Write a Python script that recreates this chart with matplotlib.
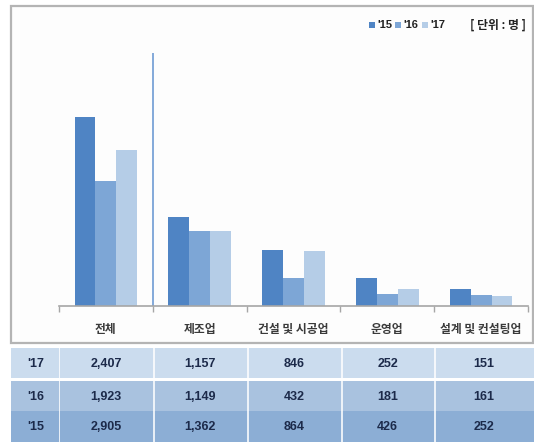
import matplotlib.pyplot as plt
from matplotlib.patches import Rectangle

# 데이터
categories = ["전체", "제조업", "건설 및 시공업", "운영업", "설계 및 컨설팅업"]
years = ["'15", "'16", "'17"]
v15 = [2905, 1362, 864, 426, 252]
v16 = [1923, 1149, 432, 181, 161]
v17 = [2407, 1157, 846, 252, 151]
unit_label = "[ 단위 : 명 ]"

bar_colors = ["#4f84c4", "#7da6d6", "#b5cde7"]
row_colors = {"'17": "#cbdcee", "'16": "#a9c2df", "'15": "#8caed5"}

W, H = 534, 442
plt.rcParams['font.family'] = ["Noto Sans CJK KR", "DejaVu Sans"]
num_font = dict(family="Liberation Sans")


def fx(px):
    return px / W


def fy(py):
    return 1 - py / H


fig = plt.figure(figsize=(W / 100, H / 100), dpi=100)
fig.patch.set_facecolor("white")

# 차트 테두리
fig.patches.append(Rectangle((fx(11), fy(343)), fx(532.5) - fx(11), fy(5.5) - fy(343),
                             transform=fig.transFigure, facecolor="#fdfdfd",
                             edgecolor="#b4b4b4", linewidth=1.6, zorder=-5))

ax = fig.add_axes([fx(59), fy(305.7), fx(528) - fx(59), (305.7 - 52.7) / H])
ax.set_facecolor("none")

bw = 0.222
series = [v15, v16, v17]
for k, vals in enumerate(series):
    xs = [i + (k - 1) * bw for i in range(len(categories))]
    ax.bar(xs, vals, width=bw, color=bar_colors[k], linewidth=0, zorder=2)

ax.set_xlim(-0.5, len(categories) - 0.5)
ax.set_ylim(0, 3905)
for s in ["top", "right", "left"]:
    ax.spines[s].set_visible(False)
ax.spines["bottom"].set_color("#a6a6a6")
ax.spines["bottom"].set_linewidth(1.2)
ax.set_yticks([])
ax.set_xticks([i - 0.5 for i in range(len(categories) + 1)])
ax.set_xticklabels([])
ax.tick_params(axis="x", direction="out", length=4, width=1, color="#a6a6a6")

# 구분선
ax.axvline(0.5, color="#6f9bd3", linewidth=1.2, zorder=1)

for i, c in enumerate(categories):
    ax.text(i, -0.095, c, transform=ax.get_xaxis_transform(), ha="center", va="center",
            fontsize=8.5, color="#3a3a3a", fontweight="bold")

# 범례
leg_x = [369, 395, 422]
for k, y in enumerate(years):
    fig.patches.append(Rectangle((fx(leg_x[k]), fy(28)), 6 / W, 6 / H,
                                 transform=fig.transFigure, facecolor=bar_colors[k],
                                 edgecolor="none"))
    fig.text(fx(leg_x[k] + 8), fy(25), y, ha="left", va="center", fontsize=8,
             fontweight="bold", color="#222222", **num_font)
fig.text(fx(498), fy(25), unit_label, ha="center", va="center", fontsize=8.5,
         fontweight="bold", color="#222222")

# 표
col_edges = [11, 59, 153, 247, 341, 434, 534]
rows = [("'17", v17, 347.5, 378), ("'16", v16, 381, 411), ("'15", v15, 411, 442)]
for label, vals, top, bot in rows:
    fig.patches.append(Rectangle((fx(col_edges[0]), fy(bot)), fx(col_edges[-1]) - fx(col_edges[0]),
                                 (bot - top) / H, transform=fig.transFigure,
                                 facecolor=row_colors[label], edgecolor="none"))
    yc = (top + bot) / 2 + 1
    fig.text(fx((col_edges[0] + col_edges[1]) / 2 + 1), fy(yc), label, ha="center", va="center",
             fontsize=9, fontweight="bold", color="#1c2a4a", **num_font)
    for j, v in enumerate(vals):
        xc = (col_edges[j + 1] + col_edges[j + 2]) / 2
        fig.text(fx(xc), fy(yc), f"{v:,}", ha="center", va="center",
                 fontsize=9, fontweight="bold", color="#1c2a4a", **num_font)

for xe in col_edges[1:-1]:
    fig.patches.append(Rectangle((fx(xe), fy(442)), 1.5 / W, (442 - 347.5) / H,
                                 transform=fig.transFigure, facecolor="white",
                                 edgecolor="none", alpha=0.8))

fig.savefig("out.png", dpi=100)
